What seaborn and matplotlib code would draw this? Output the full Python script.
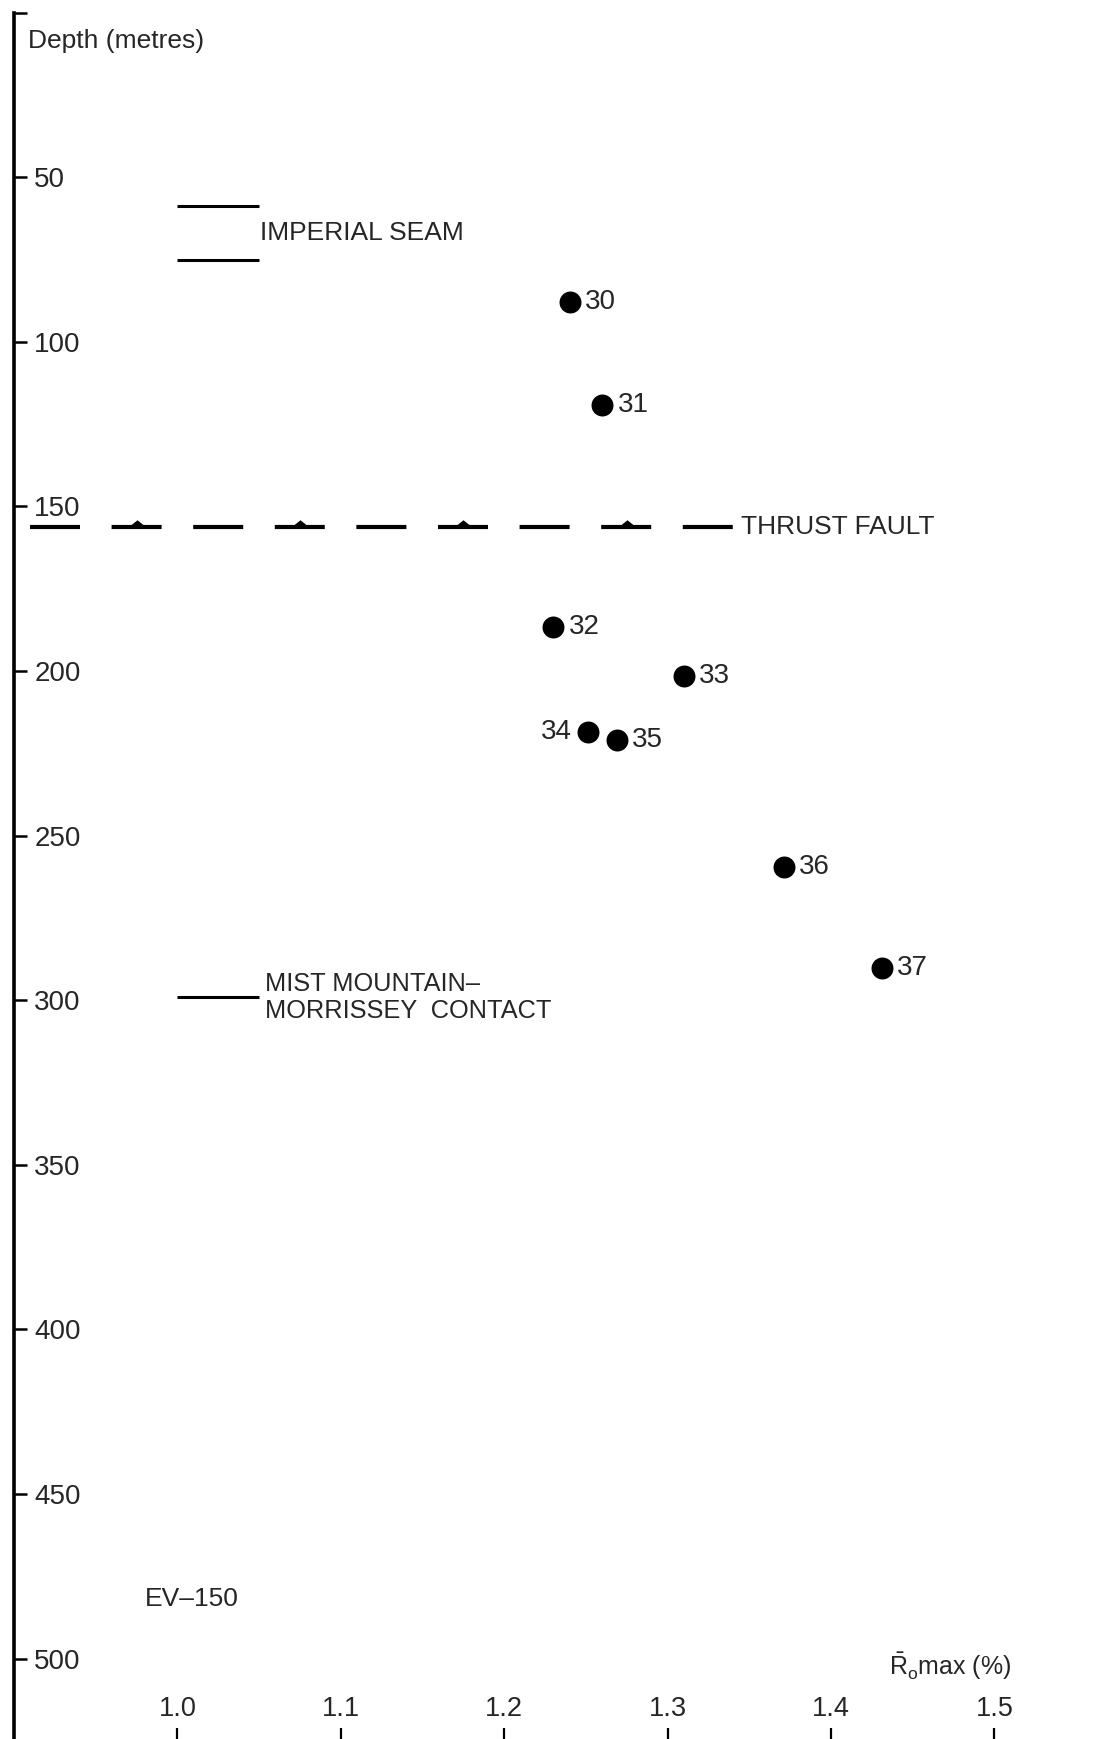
import matplotlib
matplotlib.use("Agg")
import matplotlib.pyplot as plt
import seaborn as sns
import pandas as pd
from matplotlib.path import Path

# ---------------- data ----------------
sample_ids = ["30", "31", "32", "33", "34", "35", "36", "37"]
ro_max = [1.240, 1.260, 1.230, 1.310, 1.251, 1.269, 1.371, 1.431]
depth_m = [88.0, 119.1, 186.5, 201.5, 218.4, 220.9, 259.4, 290.3]
label_side = ["right", "right", "right", "right", "left", "right", "right", "right"]

x_ticks = [1.0, 1.1, 1.2, 1.3, 1.4, 1.5]
x_tick_labels = ["1.0", "1.1", "1.2", "1.3", "1.4", "1.5"]
y_ticks = [0, 50, 100, 150, 200, 250, 300, 350, 400, 450, 500]
y_tick_labels = ["", "50", "100", "150", "200", "250", "300", "350", "400", "450", "500"]

imperial_seam_depths = [58.9, 75.3]
contact_depth = 298.9
horizon_x = [1.0, 1.05]
thrust_fault_depth = 156.2
thrust_fault_x = [0.9098, 1.3399]
thrust_teeth_x = [0.9752, 1.0751, 1.1750, 1.2749]

df = pd.DataFrame({"id": sample_ids, "ro": ro_max, "depth": depth_m, "side": label_side})

# ---------------- style ----------------
sns.set_style("white")
plt.rcParams["font.family"] = ["Liberation Sans", "DejaVu Sans"]
plt.rcParams["mathtext.fontset"] = "custom"
plt.rcParams["mathtext.rm"] = "Liberation Sans"
plt.rcParams["mathtext.it"] = "Liberation Sans:italic"
plt.rcParams["lines.scale_dashes"] = False

FS = 19
fig = plt.figure(figsize=(11.11, 17.39), dpi=100)
ax = fig.add_axes([0, 0, 1, 1])

# points
sns.scatterplot(data=df, x="ro", y="depth", ax=ax, color="black", s=250,
                linewidth=0, legend=False, zorder=5)
for _, r in df.iterrows():
    if r["side"] == "right":
        ax.annotate(r["id"], (r["ro"], r["depth"]), xytext=(11, 0),
                    textcoords="offset points", ha="left", va="center", fontsize=20)
    else:
        ax.annotate(r["id"], (r["ro"], r["depth"]), xytext=(-11, 0),
                    textcoords="offset points", ha="right", va="center", fontsize=20)

# horizons
for d in imperial_seam_depths:
    ax.plot(horizon_x, [d, d], color="black", lw=2.2, solid_capstyle="butt")
ax.text(horizon_x[1] + 0.0003, sum(imperial_seam_depths) / 2, "IMPERIAL SEAM",
        ha="left", va="center", fontsize=FS)

ax.plot(horizon_x, [contact_depth, contact_depth], color="black", lw=2.2,
        solid_capstyle="butt")
ax.text(horizon_x[1] + 0.0036, contact_depth - 3.8, "MIST MOUNTAIN\u2013",
        ha="left", va="center", fontsize=18.3)
ax.text(horizon_x[1] + 0.0036, contact_depth + 4.3, "MORRISSEY  CONTACT",
        ha="left", va="center", fontsize=18.3)

# thrust fault
ax.plot(thrust_fault_x, [thrust_fault_depth] * 2, color="black", lw=3.0,
        dashes=(36.0, 22.75), dash_capstyle="butt")
tooth = Path([(-1, 0), (0, 0.8), (1, 0), (-1, 0)],
             [Path.MOVETO, Path.LINETO, Path.LINETO, Path.CLOSEPOLY])
ax.plot(thrust_teeth_x, [thrust_fault_depth] * len(thrust_teeth_x), linestyle="none",
        marker=tooth, markersize=13, color="black", markeredgewidth=0)
ax.text(thrust_fault_x[1] + 0.005, thrust_fault_depth, "THRUST FAULT",
        ha="left", va="center", fontsize=FS)

# other labels
ax.text(0.9084, 8.8, "Depth (metres)", ha="left", va="center", fontsize=FS)
ax.text(0.9800, 481.8, "EV\u2013150", ha="left", va="center", fontsize=FS)
ax.text(1.5106, 502.3, r"$\bar{\mathrm{R}}_{\mathrm{o}}$max (%)", ha="right",
        va="center", fontsize=18)

# axes
ax.set_xlim(0.89143, 1.57136)
ax.set_ylim(524.4, -3.8)
for s in ["top", "right", "bottom"]:
    ax.spines[s].set_visible(False)
ax.spines["left"].set_position(("data", 0.9))
ax.spines["left"].set_bounds(0, 524.4)
ax.spines["left"].set_linewidth(2.6)
ax.spines["left"].set_color("black")

ax.set_yticks(y_ticks)
ax.set_yticklabels(y_tick_labels, fontsize=20)
ax.tick_params(axis="y", direction="in", length=9, width=1.8, pad=-14.5,
               color="black", left=True)
plt.setp(ax.get_yticklabels(), ha="left")

ax.set_xticks(x_ticks)
ax.set_xticklabels(x_tick_labels, fontsize=19.5)
ax.tick_params(axis="x", direction="in", length=8, width=1.6, pad=-12.5,
               color="black", bottom=True)
plt.setp(ax.get_xticklabels(), va="bottom")

ax.set_xlabel("")
ax.set_ylabel("")
ax.grid(False)

fig.savefig("out.png", dpi=100)
